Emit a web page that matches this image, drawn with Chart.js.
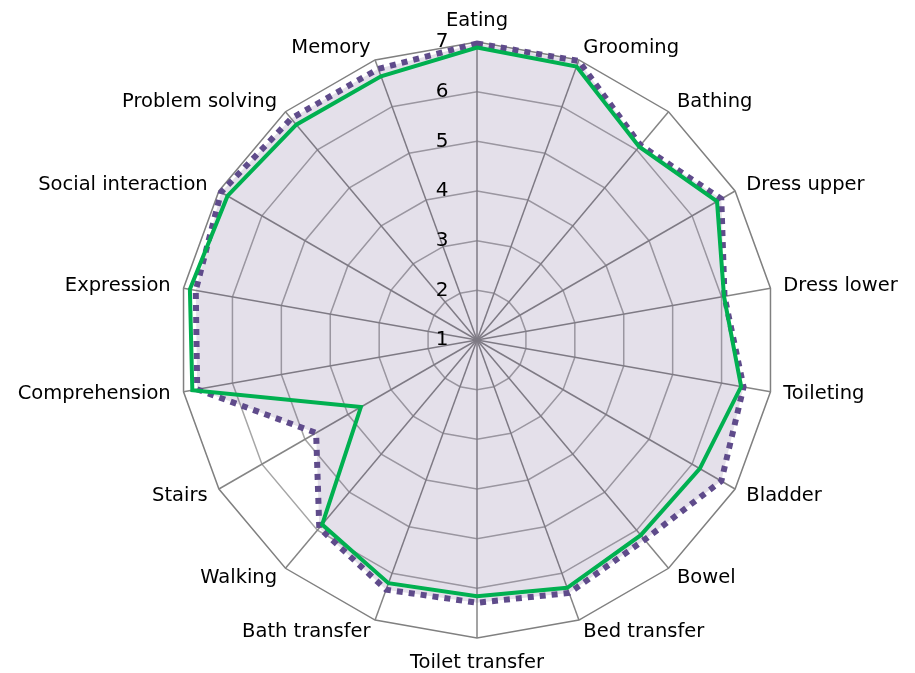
<!DOCTYPE html>
<html lang="en">
<head>
    <meta charset="UTF-8">
    <title>FIM radar</title>
    <style>
        body { margin: 0; padding: 0; background: #ffffff; overflow: hidden; }
        #wrap { width: 915px; height: 673px; }
    </style>
    <script src="https://cdn.jsdelivr.net/npm/chart.js"></script>
</head>
<body>
<div id="wrap"><canvas id="radar"></canvas></div>
<script>
    // Categories, clockwise from the top
    const categories = ['Eating', 'Grooming', 'Bathing', 'Dress upper', 'Dress lower', 'Toileting',
        'Bladder', 'Bowel', 'Bed transfer', 'Toilet transfer', 'Bath transfer', 'Walking', 'Stairs',
        'Comprehension', 'Expression', 'Social interaction', 'Problem solving', 'Memory'];

    // Dotted purple series (filled)
    const purpleValues = [6.97, 6.98, 6.12, 6.68, 6.06, 6.45, 6.68, 6.25, 6.42, 6.29, 6.35, 5.94, 4.74,
        6.72, 6.75, 6.95, 6.82, 6.81];
    // Solid green series
    const greenValues = [6.89, 6.86, 6.08, 6.58, 6.05, 6.40, 6.18, 6.13, 6.31, 6.16, 6.21, 5.85, 3.70,
        6.82, 6.87, 6.80, 6.66, 6.65];

    const tickValues = [1, 2, 3, 4, 5, 6, 7];

    // Tick numbers sit to the left of the top spoke, category names just outside each spoke
    const labelPlugin = {
        id: 'radarLabels',
        afterDatasetsDraw(chart) {
            const scale = chart.scales.r;
            const ctx = chart.ctx;
            ctx.save();
            ctx.fillStyle = '#000';

            ctx.font = '20px "DejaVu Sans", sans-serif';
            ctx.textAlign = 'center';
            ctx.textBaseline = 'middle';
            tickValues.forEach(v => {
                const d = scale.getDistanceFromCenterForValue(v);
                ctx.fillText(String(v), scale.xCenter - 35, scale.yCenter - d);
            });

            ctx.font = '19.5px "DejaVu Sans", sans-serif';
            categories.forEach((name, i) => {
                const p = scale.getPointPosition(i, scale.drawingArea + 13);
                const dx = p.x - scale.xCenter;
                let baseline = 'middle';
                let shift = 0;
                if (Math.abs(dx) < 1) {
                    ctx.textAlign = 'center';
                    baseline = p.y < scale.yCenter ? 'bottom' : 'top';
                    shift = 2;
                } else {
                    ctx.textAlign = dx > 0 ? 'left' : 'right';
                }
                ctx.textBaseline = baseline;
                ctx.fillText(name, p.x, p.y + shift);
            });
            ctx.restore();
        }
    };

    const ctx = document.getElementById('radar').getContext('2d');
    const radar = new Chart(ctx, {
        type: 'radar',
        data: {
            labels: categories,
            datasets: [
                {
                    label: 'Green',
                    data: greenValues,
                    borderColor: '#00b050',
                    borderWidth: 4,
                    fill: false,
                    pointRadius: 0,
                    order: 1
                },
                {
                    label: 'Purple',
                    data: purpleValues,
                    borderColor: '#5f4b8b',
                    borderWidth: 6,
                    borderDash: [6, 6],
                    borderCapStyle: 'butt',
                    backgroundColor: 'rgba(95, 73, 130, 0.17)',
                    fill: true,
                    pointRadius: 0,
                    order: 2
                }
            ]
        },
        options: {
            responsive: true,
            maintainAspectRatio: false,
            animation: false,
            layout: { padding: { top: 42, bottom: 35, left: 39, right: 0 } },
            plugins: {
                legend: { display: false },
                tooltip: { enabled: false },
                filler: { drawTime: 'beforeDatasetsDraw' }
            },
            scales: {
                r: {
                    min: 1,
                    max: 7,
                    ticks: { stepSize: 1, display: false },
                    grid: {
                        color: c => (c.tick && c.tick.value === 7) ? '#808080' : '#a6a6a6',
                        lineWidth: 1.5
                    },
                    angleLines: { color: '#858585', lineWidth: 1.5 },
                    pointLabels: { display: false }
                }
            }
        },
        plugins: [labelPlugin]
    });
</script>
</body>
</html>
